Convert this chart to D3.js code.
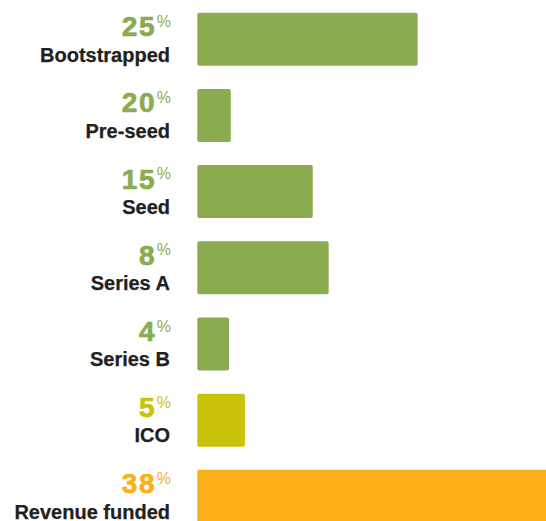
<!DOCTYPE html>
<html>
<head>
<meta charset="utf-8">
<script src="https://cdn.jsdelivr.net/npm/d3@7"></script>
<style>
  html, body { margin: 0; padding: 0; background: #fff; overflow: hidden; }
  svg { display: block; }
  text { font-family: "Liberation Sans", Arial, sans-serif; }
</style>
</head>
<body>
<svg id="chart" width="546" height="521"></svg>
<script>
const categories = ["Bootstrapped", "Pre-seed", "Seed", "Series A", "Series B", "ICO", "Revenue funded"];
const percentLabels = [25, 20, 15, 8, 4, 5, 38];
const barValues = [25, 3.8, 13.1, 14.9, 3.6, 5.4, 40];
const groups = ["equity", "equity", "equity", "equity", "equity", "ico", "revenue"];

const colorScale = d3.scaleOrdinal()
  .domain(["equity", "ico", "revenue"])
  .range(["#8aac4f", "#c8c30a", "#fcaf17"]);

const data = categories.map((c, i) => ({ cat: c, pct: percentLabels[i], val: barValues[i], grp: groups[i] }));

const svg = d3.select("#chart");

const x = d3.scaleLinear().domain([0, 25]).range([197.3, 417.7]);
const y = d3.scaleBand().domain(categories).range([12.7, 522.9]).paddingInner(0.304).paddingOuter(0);

svg.selectAll("rect.bar")
  .data(data)
  .join("rect")
  .attr("class", "bar")
  .attr("x", x(0))
  .attr("y", d => y(d.cat))
  .attr("width", d => x(d.val) - x(0))
  .attr("height", y.bandwidth())
  .attr("rx", 2)
  .attr("fill", d => colorScale(d.grp));

const labelRight = 171;

const pctG = svg.selectAll("g.lab")
  .data(data)
  .join("g")
  .attr("class", "lab");

pctG.append("text")
  .attr("x", labelRight)
  .attr("y", d => y(d.cat) + 23.6)
  .attr("text-anchor", "end")
  .attr("fill", d => colorScale(d.grp))
  .style("font-weight", "bold")
  .style("font-size", "28px")
  .each(function(d) {
    const t = d3.select(this);
    t.append("tspan")
      .style("letter-spacing", "1.7px")
      .attr("stroke", colorScale(d.grp))
      .attr("stroke-width", 0.7)
      .text(d.pct);
    t.append("tspan")
      .attr("dx", 0.5)
      .attr("dy", -9.5)
      .style("font-size", "16px")
      .style("font-weight", "normal")
      .text("%");
  });

pctG.append("text")
  .attr("x", labelRight - 1)
  .attr("y", d => y(d.cat) + 48.8)
  .attr("text-anchor", "end")
  .attr("fill", "#231f20")
  .attr("stroke", "#231f20")
  .attr("stroke-width", 0.25)
  .style("font-weight", "bold")
  .style("font-size", "20px")
  .text(d => d.cat);
</script>
</body>
</html>
